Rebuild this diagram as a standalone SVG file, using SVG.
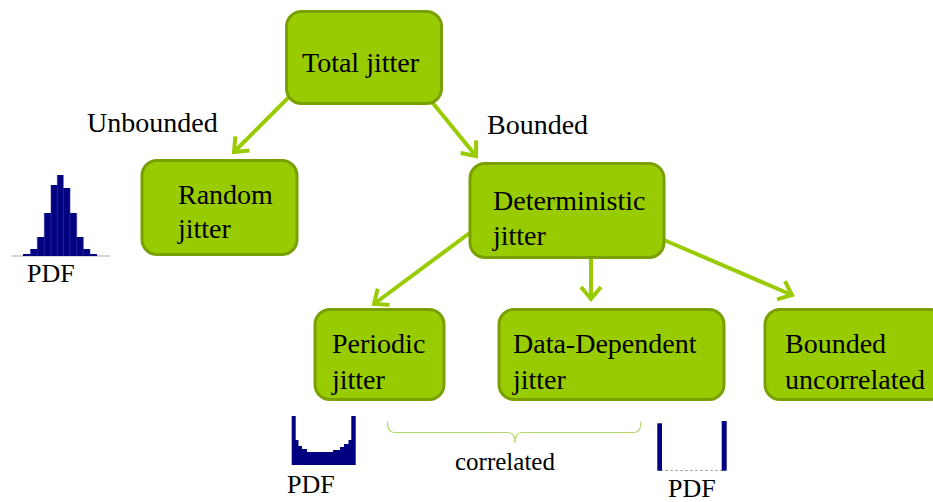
<svg xmlns="http://www.w3.org/2000/svg" width="933" height="502" viewBox="0 0 933 502">
<defs>
<style>
.box{fill:#99CC00;stroke:#7A9F00;stroke-width:3}
.t{font-family:"Liberation Serif","Times New Roman",serif;font-size:28px;fill:#000}
.lbl{font-family:"Liberation Serif","Times New Roman",serif;font-size:28px;fill:#000}
.pdf{font-family:"Liberation Serif","Times New Roman",serif;font-size:26px;fill:#000}
.arr{stroke:#99CC00;stroke-width:4;fill:none;marker-end:url(#ah)}
.bar{fill:#000080}
</style>
<marker id="ah" markerUnits="userSpaceOnUse" markerWidth="30" markerHeight="30" refX="15" refY="15" orient="auto" viewBox="0 0 30 30">
<path d="M3,5 L15,15 L3,25" fill="none" stroke="#99CC00" stroke-width="4" stroke-linejoin="miter"/>
</marker>
</defs>
<rect width="933" height="502" fill="#fff"/>
<g id="connectors">
<line class="arr" x1="290" y1="96" x2="234" y2="152"/>
<line class="arr" x1="432" y1="102" x2="476" y2="156"/>
<line class="arr" x1="471" y1="232" x2="374" y2="304"/>
<line class="arr" x1="591" y1="257" x2="591" y2="299"/>
<line class="arr" x1="664" y1="240" x2="792" y2="295"/>
</g>
<g id="total">
<rect class="box" x="286.5" y="11.5" width="155" height="92" rx="15"/>
<text class="t" x="302" y="72">Total jitter</text>
</g>
<g id="random">
<rect class="box" x="142" y="160.5" width="155" height="94" rx="15"/>
<text class="t" x="178" y="204">Random</text>
<text class="t" x="178" y="238">jitter</text>
</g>
<g id="deterministic">
<rect class="box" x="470" y="163.5" width="194" height="94" rx="15"/>
<text class="t" x="493" y="210">Deterministic</text>
<text class="t" x="493" y="245">jitter</text>
</g>
<g id="periodic">
<rect class="box" x="315" y="309.5" width="129" height="90" rx="15"/>
<text class="t" x="332" y="353">Periodic</text>
<text class="t" x="332" y="389">jitter</text>
</g>
<g id="datadependent">
<rect class="box" x="499" y="309.5" width="225" height="90" rx="15"/>
<text class="t" x="513" y="353">Data-Dependent</text>
<text class="t" x="513" y="389">jitter</text>
</g>
<g id="bounded">
<rect class="box" x="765" y="309.5" width="180" height="90" rx="15"/>
<text class="t" x="785" y="353">Bounded</text>
<text class="t" x="785" y="389">uncorrelated</text>
</g>
<g id="labels">
<text class="lbl" x="87" y="132">Unbounded</text>
<text class="lbl" x="487" y="134">Bounded</text>
</g>
<g id="gaussian">
<line x1="12" y1="256" x2="110" y2="256" stroke="#aaaaaa" stroke-width="1"/>
<path class="bar" d="M23,256 V254 H30.5 V249 H37.3 V237 H44.3 V213 H51 V185 H57.3 V175 H63.3 V188 H70 V213 H76.7 V237 H83.3 V249 H90 V254 H97 V256 Z"/>
<g stroke="#3a3aa0" stroke-width="0.6">
<line x1="30.5" y1="249" x2="30.5" y2="256"/><line x1="37.3" y1="237" x2="37.3" y2="256"/><line x1="44.3" y1="213" x2="44.3" y2="256"/><line x1="51" y1="185" x2="51" y2="256"/><line x1="57.3" y1="175" x2="57.3" y2="256"/><line x1="63.3" y1="175" x2="63.3" y2="256"/><line x1="70" y1="188" x2="70" y2="256"/><line x1="76.7" y1="213" x2="76.7" y2="256"/><line x1="83.3" y1="237" x2="83.3" y2="256"/><line x1="90" y1="249" x2="90" y2="256"/>
</g>
<text class="pdf" x="27" y="282">PDF</text>
</g>
<g id="bathtub">
<path class="bar" d="M291.7,416 H295.7 V440 H298.5 V446 H302 V449 H307 V452 H333 V450 H340 V447 H344 V444 H348.5 V440 H351.3 V416 H355.7 V465 H291.7 Z"/>
<text class="pdf" x="287" y="493">PDF</text>
</g>
<g id="dualdirac">
<line x1="660" y1="470.5" x2="724" y2="470.5" stroke="#aaaaaa" stroke-width="1" stroke-dasharray="3,2"/>
<rect class="bar" x="657.3" y="423.3" width="4.7" height="47.4"/>
<rect class="bar" x="721.7" y="421" width="5" height="49.7"/>
<text class="pdf" x="668" y="497">PDF</text>
</g>
<g id="brace">
<path d="M387.5,421.5 Q387.5,432.5 394,432.5 H508 Q515,432.5 515,443 Q515,432.5 522,432.5 H634 Q641,432.5 641,421.5" fill="none" stroke="#B3D86A" stroke-width="1.2"/>
<text x="455" y="470" font-family="Liberation Serif, Times New Roman, serif" font-size="25" fill="#000">correlated</text>
</g>
</svg>
